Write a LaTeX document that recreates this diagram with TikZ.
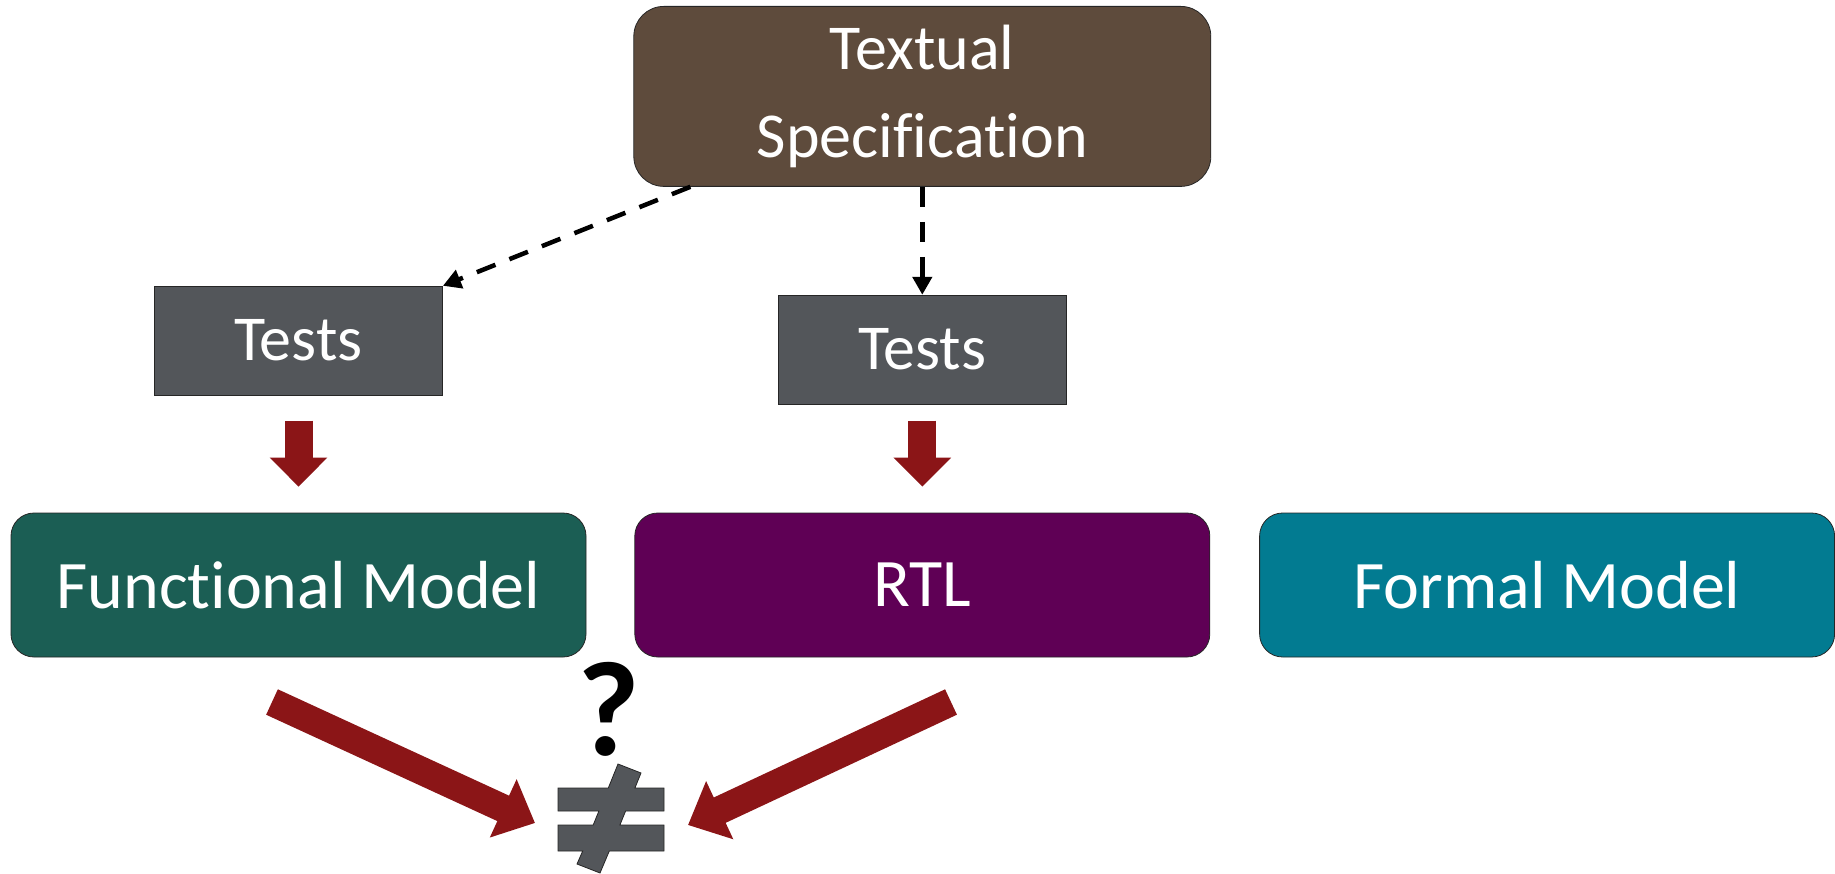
\documentclass[tikz,border=0pt]{standalone}
\usepackage{fontspec}
\setmainfont[Ligatures=NoCommon]{Carlito}
\usetikzlibrary{positioning, arrows.meta}

\definecolor{specbrown}{HTML}{5E4B3C}
\definecolor{testgray}{HTML}{53565A}
\definecolor{funcgreen}{HTML}{1B5E54}
\definecolor{rtlpurple}{HTML}{5F0055}
\definecolor{formalteal}{HTML}{027B91}
\definecolor{arrowred}{HTML}{8B1517}

\begin{document}
\begin{tikzpicture}[
  x=1pt, y=-1pt,
  box/.style={draw=black!85, line width=0.8pt, text=white,
              align=center, inner sep=0pt},
  spec/.style={box, fill=specbrown, rounded corners=30pt,
               minimum width=577pt, minimum height=180pt,
               font=\fontsize{64}{88}\selectfont},
  tests/.style={box, fill=testgray,
                minimum width=288pt, minimum height=109pt,
                font=\fontsize{64}{77}\selectfont},
  model/.style={box, rounded corners=23pt,
                minimum width=575pt, minimum height=144pt,
                font=\fontsize{68}{82}\selectfont},
  dasharrow/.style={-{Triangle[length=18pt, width=19pt]}, line width=4.5pt,
                    dash pattern=on 20pt off 15pt},
  downarrow/.style={-{Triangle[length=29pt, width=56pt]}, line width=28pt,
                    arrowred},
  bigarrow/.style={-{Triangle[length=35pt, width=62pt]}, line width=28pt,
                   arrowred},
]
\useasboundingbox (0,0) rectangle (1835,874);

% ------------------- models (bottom row) -------------------
\node[model, fill=funcgreen] (funcM) at (298.5,585) {Functional Model};
\node[model, fill=rtlpurple, right=48pt of funcM] (rtl) {RTL};
\node[model, fill=formalteal, right=49pt of rtl] (formal) {Formal Model};

% ------------------- tests and spec -------------------
\node[tests, above=117pt of funcM] (testsL) {Tests};
\node[tests, above=108pt of rtl] (testsR) {Tests};
\node[spec, above=108pt of testsR] (spec) {Textual\\Specification};

\draw[dasharrow] ([xshift=57pt]spec.south west) -- (testsL.north east);
\draw[dasharrow] (spec.south) -- (testsR.north);

\draw[downarrow] ([yshift=-25pt]testsL.south) -- ([yshift=26pt]funcM.north);
\draw[downarrow] ([yshift=-16pt]testsR.south) -- ([yshift=26pt]rtl.north);

% ------------------- comparison: not equal ? -------------------
\coordinate (tailL) at (272,702);
\coordinate (tipL) at (535,823);
\coordinate (tailR) at (951,702);
\coordinate (tipR) at (688,825);

\draw[bigarrow] (tailL) -- (tipL);
\draw[bigarrow] (tailR) -- (tipR);

\node[font=\fontsize{135}{135}\selectfont\bfseries, anchor=base,
      inner sep=0pt] (qmark) at (609,755) {?};

\draw[fill=testgray, draw=black!85, line width=0.8pt]
  (618,764) -- (641,773) -- (634.9,788) -- (664,788) -- (664,811)
  -- (625.6,811) -- (619.9,825) -- (664,825) -- (664,851)
  -- (609.3,851) -- (600,873) -- (577,864) -- (582.7,851)
  -- (558,851) -- (558,825) -- (593.2,825) -- (598.9,811)
  -- (558,811) -- (558,788) -- (608.3,788) -- cycle;

\end{tikzpicture}
\end{document}
